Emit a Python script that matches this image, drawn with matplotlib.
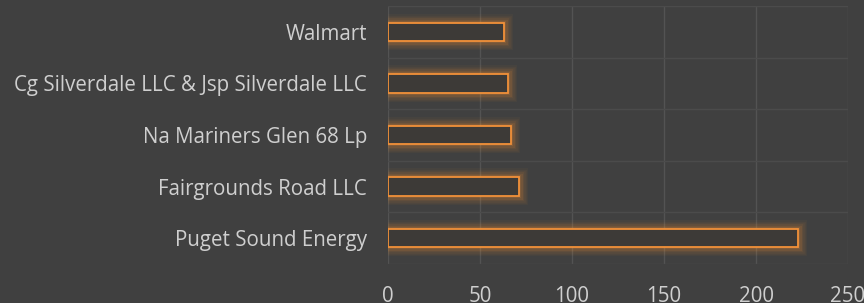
import matplotlib.pyplot as plt
import numpy as np

companies = ['Puget Sound Energy', 'Fairgrounds Road LLC', 'Na Mariners Glen 68 Lp',
             'Cg Silverdale LLC & Jsp Silverdale LLC', 'Walmart']
values = [223, 71, 67, 65, 63]
xticks = [0, 50, 100, 150, 200, 250]

bg = '#404040'
orange = '#f29139'
txt = '#cfcfcf'

plt.rcParams['font.family'] = ['Open Sans', 'DejaVu Sans']

fig = plt.figure(figsize=(8.64, 3.03), dpi=100, facecolor=bg)
ax = fig.add_axes([388 / 864, 1 - 264 / 303, 460 / 864, 258 / 303], facecolor=bg)

y = np.arange(len(companies))
h = 0.36

# soft glow around the bars
for lw, a in [(13, 0.04), (11, 0.05), (9, 0.06), (7, 0.08), (5, 0.1), (3, 0.14)]:
    ax.barh(y, values, height=h, color='none', edgecolor=orange, linewidth=lw, alpha=a, zorder=3)
ax.barh(y, values, height=h, color='#3d3a37', edgecolor=orange, linewidth=1.3, zorder=4)

ax.set_xlim(0, 250)
ax.set_ylim(-0.5, len(companies) - 0.5)
ax.set_xticks(xticks)
ax.set_yticks(y)
ax.set_yticklabels(companies)
ax.set_yticks(np.arange(-0.5, len(companies), 1), minor=True)

ax.grid(True, axis='x', color='#535353', linewidth=1, zorder=0)
ax.grid(True, axis='y', which='minor', color='#4b4b4b', linewidth=1, zorder=0)
ax.tick_params(axis='both', which='both', length=0, colors=txt, labelsize=14.8)
ax.tick_params(axis='y', pad=15)
ax.tick_params(axis='x', pad=16)
for s in ax.spines.values():
    s.set_visible(False)

fig.savefig('out.png', dpi=100, facecolor=bg)
